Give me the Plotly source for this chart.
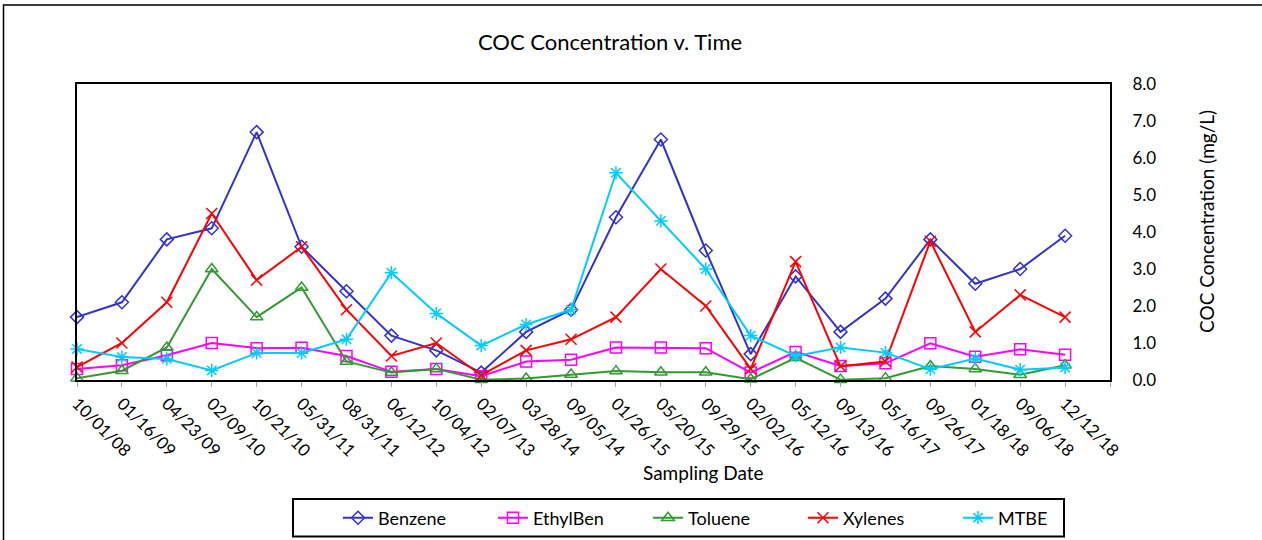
import plotly.graph_objects as go

# Sampling dates (category axis) and COC concentrations in mg/L
dates = ["10/01/08", "01/16/09", "04/23/09", "02/09/10", "10/21/10", "05/31/11",
         "08/31/11", "06/12/12", "10/04/12", "02/07/13", "03/28/14", "09/05/14",
         "01/26/15", "05/20/15", "09/29/15", "02/02/16", "05/12/16", "09/13/16",
         "05/16/17", "09/26/17", "01/18/18", "09/06/18", "12/12/18"]

benzene = [1.7, 2.1, 3.8, 4.1, 6.7, 3.6, 2.4, 1.2, 0.8, 0.2, 1.3, 1.9,
           4.4, 6.5, 3.5, 0.7, 2.8, 1.3, 2.2, 3.8, 2.6, 3.0, 3.9]
ethylben = [0.3, 0.4, 0.67, 1.0, 0.86, 0.87, 0.65, 0.22, 0.3, 0.1, 0.5, 0.55,
            0.88, 0.88, 0.86, 0.2, 0.76, 0.38, 0.45, 0.99, 0.63, 0.83, 0.68]
toluene = [0.05, 0.25, 0.88, 3.0, 1.7, 2.5, 0.5, 0.2, 0.3, 0.01, 0.04, 0.15,
           0.24, 0.21, 0.21, 0.02, 0.6, 0.01, 0.05, 0.38, 0.3, 0.14, 0.4]
xylenes = [0.35, 1.0, 2.1, 4.5, 2.7, 3.6, 1.9, 0.65, 1.0, 0.13, 0.8, 1.1,
           1.7, 3.0, 2.0, 0.3, 3.2, 0.37, 0.5, 3.75, 1.3, 2.3, 1.7]
mtbe = [0.84, 0.62, 0.57, 0.26, 0.73, 0.73, 1.1, 2.9, 1.8, 0.93, 1.5, 1.9,
        5.6, 4.3, 3.0, 1.2, 0.65, 0.88, 0.74, 0.29, 0.58, 0.28, 0.34]

FONT = "Lato"
W, H = 1262, 540
L, R, T, B = 77, 152, 84, 160
PW, PH = W - L - R, H - T - B

def px_x(v):
    # pixel column -> paper fraction
    return (v - L) / PW

def px_y(v):
    # pixel row -> paper fraction
    return (H - B - v) / PH

x = list(range(len(dates)))

series = [
    ("Benzene", benzene, "#3333CC", "diamond-open", 10),
    ("EthylBen", ethylben, "#FF00FF", "square-open", 11),
    ("Toluene", toluene, "#339933", "triangle-up-open", 11),
    ("Xylenes", xylenes, "#FF0000", "x-thin-open", 11),
    ("MTBE", mtbe, "#00CCFF", "asterisk-open", 11),
]

fig = go.Figure()
for name, vals, color, sym, size in series:
    fig.add_trace(go.Scatter(
        x=x, y=vals, name=name, mode="lines+markers",
        line=dict(color=color, width=2),
        marker=dict(symbol=sym, size=size, color=color,
                    line=dict(color=color, width=1.5)),
        cliponaxis=False,
    ))

fig.update_layout(
    width=W, height=H, autosize=False,
    margin=dict(l=L, r=R, t=T, b=B),
    paper_bgcolor="white", plot_bgcolor="white",
    font=dict(family=FONT, color="#000000", size=17),
    title=dict(text="COC Concentration v. Time", xref="container", yref="container",
               x=610 / W, y=1 - 42 / H, xanchor="center", yanchor="middle",
               font=dict(family=FONT, size=22, color="#000000")),
    showlegend=True,
    legend=dict(orientation="h", xref="container", yref="container",
                x=338 / W, y=1 - 518 / H, xanchor="left", yanchor="middle",
                entrywidth=110, entrywidthmode="pixels", itemwidth=30,
                bgcolor="rgba(0,0,0,0)", borderwidth=0,
                font=dict(family=FONT, size=18, color="#000000")),
)

fig.update_xaxes(
    range=[0, len(dates)],
    tickmode="array", tickvals=list(range(len(dates) + 1)),
    ticktext=dates + [""], tickangle=45,
    ticks="outside", ticklen=5, tickcolor="#A6A6A6", tickwidth=1,
    showline=True, linecolor="#000000", linewidth=2, mirror=True,
    showgrid=False, zeroline=False,
    tickfont=dict(family=FONT, size=17, color="#000000"),
)

fig.update_yaxes(
    side="right", range=[0, 8], dtick=1, tick0=0, tickformat=".1f",
    ticks="", ticklabelstandoff=17,
    showline=True, linecolor="#000000", linewidth=2, mirror=True,
    showgrid=False, zeroline=False,
    tickfont=dict(family=FONT, size=17, color="#000000"),
)

# Axis titles
fig.add_annotation(
    text="Sampling Date", xref="paper", yref="paper",
    x=px_x(703), y=px_y(472), xanchor="center", yanchor="middle",
    showarrow=False, font=dict(family=FONT, size=19, color="#000000"),
)
fig.add_annotation(
    text="COC Concentration (mg/L)", xref="paper", yref="paper",
    x=px_x(1206), y=px_y(222), xanchor="center", yanchor="middle",
    textangle=-90, showarrow=False,
    font=dict(family=FONT, size=19, color="#000000"),
)

# Outer chart frame and legend box
fig.add_shape(type="rect", xref="paper", yref="paper",
              x0=px_x(3.5), y0=px_y(5), x1=px_x(W + 5), y1=px_y(H + 5),
              line=dict(color="#000000", width=1.5), layer="above")
fig.add_shape(type="rect", xref="paper", yref="paper",
              x0=px_x(293), y0=px_y(499), x1=px_x(1064), y1=px_y(536.5),
              line=dict(color="#000000", width=2), layer="above")

fig.write_html("out.html")
